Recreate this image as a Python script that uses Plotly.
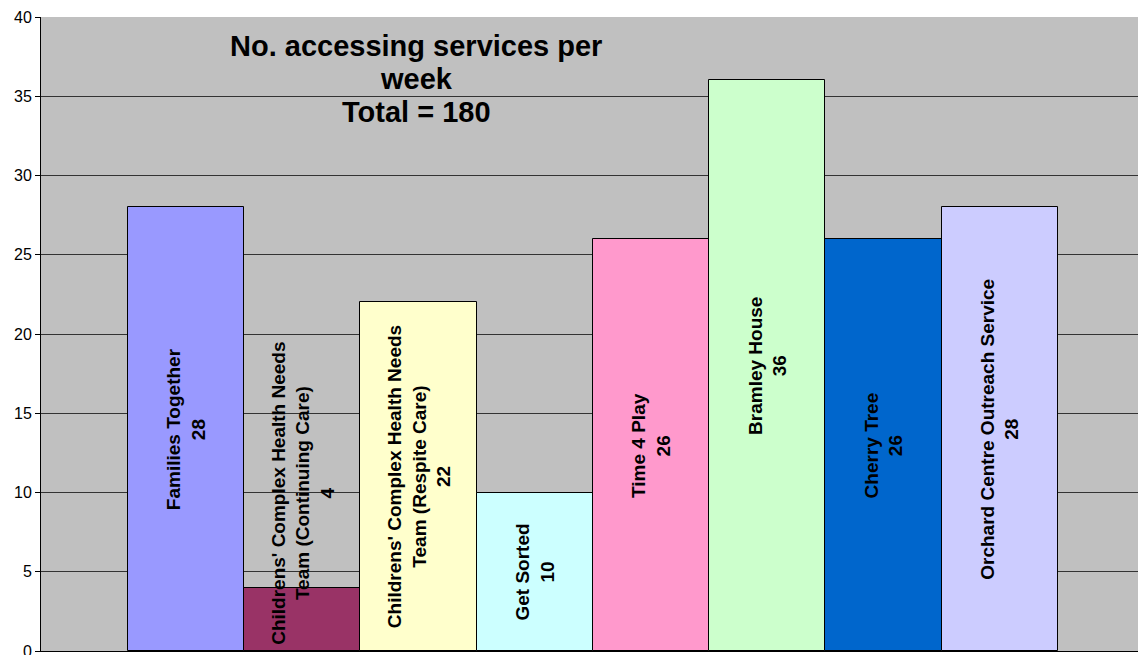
import plotly.graph_objects as go

services = [
    "Families Together",
    "Childrens' Complex Health Needs<br>Team (Continuing Care)",
    "Childrens' Complex Health Needs<br>Team (Respite Care)",
    "Get Sorted",
    "Time 4 Play",
    "Bramley House",
    "Cherry Tree",
    "Orchard Centre Outreach Service",
]
counts = [28, 4, 22, 10, 26, 36, 26, 28]
colors = ["#9999FF", "#993366", "#FFFFCC", "#CCFFFF", "#FF99CC", "#CCFFCC", "#0066CC", "#CCCCFF"]
y_ticks = [0, 5, 10, 15, 20, 25, 30, 35, 40]
title_lines = ["No. accessing services per", "week", "Total = 180"]

positions = list(range(len(services)))
FONT = "Liberation Sans, Arial"

fig = go.Figure()
fig.add_trace(go.Bar(
    x=positions, y=counts, width=1,
    marker=dict(color=colors, line=dict(color="black", width=1)),
    hoverinfo="skip",
))

annotations = []
for i, (name, v) in enumerate(zip(services, counts)):
    txt = f"<b>{name}<br>{v}</b>"
    if v < 8:
        annotations.append(dict(x=i, y=0, xref="x", yref="y", text=txt, textangle=-90,
                                showarrow=False, yanchor="bottom", yshift=4,
                                font=dict(family=FONT, size=19, color="black")))
    else:
        annotations.append(dict(x=i, y=v / 2, xref="x", yref="y", text=txt, textangle=-90,
                                showarrow=False,
                                font=dict(family=FONT, size=19, color="black")))

for k, line in enumerate(title_lines):
    annotations.append(dict(x=0.342, y=1, xref="paper", yref="paper", text="<b>" + line + "</b>",
                            showarrow=False, align="center", yanchor="middle",
                            yshift=-(29 + 33 * k),
                            font=dict(family=FONT, size=29, color="black")))

fig.update_layout(
    width=1138, height=655,
    margin=dict(l=41, r=0, t=17, b=4),
    plot_bgcolor="#C0C0C0",
    paper_bgcolor="white",
    showlegend=False,
    bargap=0,
    annotations=annotations,
    font=dict(family=FONT, color="black"),
)
fig.update_xaxes(range=[-1.248, 8.19], showticklabels=False, showgrid=False, zeroline=False,
                 showline=True, linecolor="black", linewidth=1, ticks="", automargin=False)
fig.update_yaxes(range=[0, 40], tickvals=y_ticks, showgrid=True, gridcolor="#333333", gridwidth=1,
                 zeroline=False, showline=True, linecolor="black", linewidth=1,
                 ticks="outside", ticklen=5, tickcolor="black", ticklabeloverflow="allow",
                 automargin=False,
                 tickfont=dict(family=FONT, size=16, color="black"))

fig.write_html("out.html")
